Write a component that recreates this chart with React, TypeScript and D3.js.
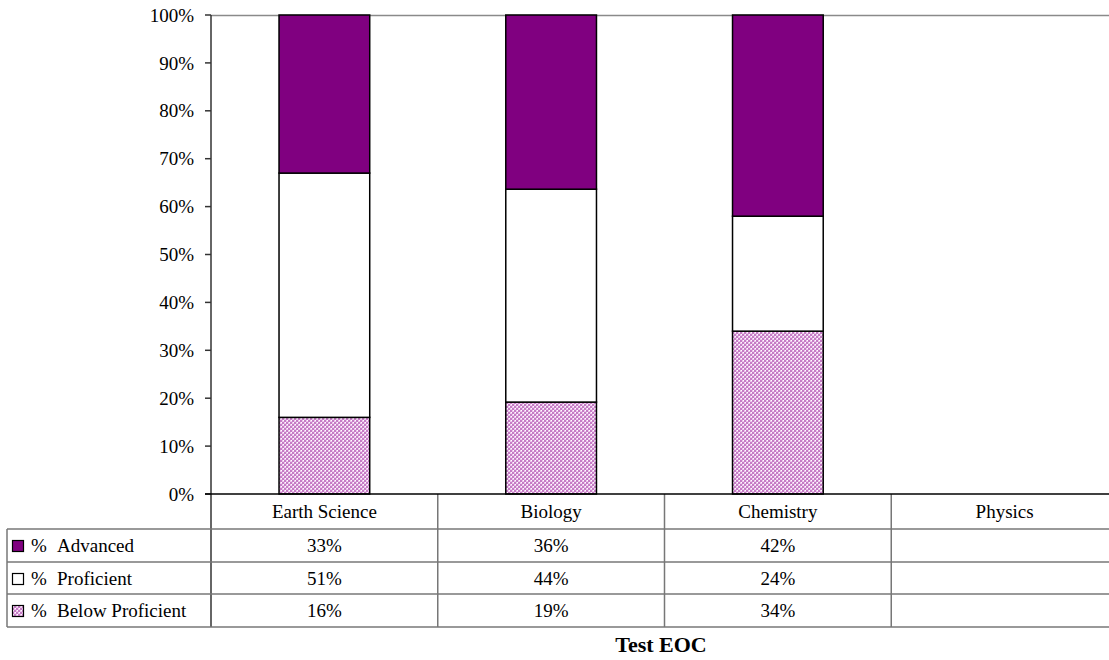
import React, { useEffect, useRef } from "react";
import * as d3 from "d3";

const categories = ["Earth Science", "Biology", "Chemistry", "Physics"];
const seriesNames = ["% Advanced", "% Proficient", "% Below Proficient"];
const advanced: (number | null)[] = [33, 36, 42, null];
const proficient: (number | null)[] = [51, 44, 24, null];
const belowProficient: (number | null)[] = [16, 19, 34, null];
const yTicks = [0, 0.1, 0.2, 0.3, 0.4, 0.5, 0.6, 0.7, 0.8, 0.9, 1];
const xTitle = "Test EOC";

const W = 1109;
const H = 660;
const FONT = "'Liberation Serif', 'Times New Roman', serif";

export default function App() {
  const ref = useRef<SVGSVGElement | null>(null);

  useEffect(() => {
    document.body.style.margin = "0";
    const svg = d3.select(ref.current);
    svg.selectAll("*").remove();

    const left = 211;
    const top = 15;
    const bottom = 494;
    const x = d3.scaleBand<string>().domain(categories).range([left, 1118]).padding(0);
    const y = d3.scaleLinear().domain([0, 1]).range([bottom, top]);

    // checker pattern
    const defs = svg.append("defs");
    const pat = defs
      .append("pattern")
      .attr("id", "chk")
      .attr("patternUnits", "userSpaceOnUse")
      .attr("width", 4)
      .attr("height", 4);
    pat.append("rect").attr("width", 4).attr("height", 4).attr("fill", "#ecc6ec");
    pat.append("rect").attr("x", 0).attr("y", 0).attr("width", 2).attr("height", 2).attr("fill", "#c57cc5");
    pat.append("rect").attr("x", 2).attr("y", 2).attr("width", 2).attr("height", 2).attr("fill", "#c57cc5");
    pat.append("rect").attr("x", 3).attr("y", 0).attr("width", 1).attr("height", 1).attr("fill", "#ffffff");
    pat.append("rect").attr("x", 1).attr("y", 2).attr("width", 1).attr("height", 1).attr("fill", "#ffffff");

    const fills = ["#800080", "#ffffff", "url(#chk)"];

    const rows = categories.map((c, i) => ({
      cat: c,
      below: belowProficient[i] ?? 0,
      prof: proficient[i] ?? 0,
      adv: advanced[i] ?? 0,
    }));
    const keys = ["below", "prof", "adv"];
    const stacked = d3.stack<any>().keys(keys).offset(d3.stackOffsetExpand)(rows);
    const fillByKey: Record<string, string> = { below: fills[2], prof: fills[1], adv: fills[0] };

    // plot top border
    svg
      .append("line")
      .attr("x1", left)
      .attr("x2", W)
      .attr("y1", top + 0.5)
      .attr("y2", top + 0.5)
      .attr("stroke", "#8a8a8a")
      .attr("stroke-width", 1.5);

    // bars
    const barW = x.bandwidth() * 0.4;
    stacked.forEach((s) => {
      svg
        .append("g")
        .selectAll("rect")
        .data(s.filter((d) => d[1] - d[0] > 0))
        .join("rect")
        .attr("x", (d: any) => (x(d.data.cat) as number) + (x.bandwidth() - barW) / 2)
        .attr("width", barW)
        .attr("y", (d: any) => y(d[1]))
        .attr("height", (d: any) => y(d[0]) - y(d[1]))
        .attr("fill", fillByKey[s.key])
        .attr("stroke", "#000")
        .attr("stroke-width", 1.5);
    });

    // y axis
    svg
      .append("line")
      .attr("x1", left)
      .attr("x2", left)
      .attr("y1", top)
      .attr("y2", 627)
      .attr("stroke", "#333")
      .attr("stroke-width", 1.5);
    const yg = svg.append("g");
    yTicks.forEach((t) => {
      yg.append("line")
        .attr("x1", left - 6)
        .attr("x2", left)
        .attr("y1", y(t))
        .attr("y2", y(t))
        .attr("stroke", "#333")
        .attr("stroke-width", 1.5);
      yg.append("text")
        .attr("x", 194)
        .attr("y", y(t))
        .attr("dy", "0.35em")
        .attr("text-anchor", "end")
        .attr("font-family", FONT)
        .attr("font-size", 19)
        .text(d3.format(".0%")(t));
    });

    // table
    const rowLines = [529, 562, 594, 627];
    rowLines.forEach((ry) =>
      svg
        .append("line")
        .attr("x1", 7)
        .attr("x2", W)
        .attr("y1", ry)
        .attr("y2", ry)
        .attr("stroke", "#777")
        .attr("stroke-width", 1.5)
    );
    svg
      .append("line")
      .attr("x1", 7)
      .attr("x2", 7)
      .attr("y1", 529)
      .attr("y2", 627)
      .attr("stroke", "#777")
      .attr("stroke-width", 1.5);
    categories.forEach((c, i) => {
      if (i > 0) {
        svg
          .append("line")
          .attr("x1", x(c) as number)
          .attr("x2", x(c) as number)
          .attr("y1", bottom)
          .attr("y2", 627)
          .attr("stroke", "#777")
          .attr("stroke-width", 1.5);
      }
      const cx = (x(c) as number) + x.bandwidth() / 2;
      svg
        .append("text")
        .attr("x", cx)
        .attr("y", 518)
        .attr("text-anchor", "middle")
        .attr("font-family", FONT)
        .attr("font-size", 19)
        .text(c);
      const vals = [advanced[i], proficient[i], belowProficient[i]];
      vals.forEach((v, r) => {
        if (v == null) return;
        svg
          .append("text")
          .attr("x", cx)
          .attr("y", rowLines[r] + 23)
          .attr("text-anchor", "middle")
          .attr("font-family", FONT)
          .attr("font-size", 19)
          .text(`${v}%`);
      });
    });

    // x axis line (0%)
    svg
      .append("line")
      .attr("x1", left - 6)
      .attr("x2", W)
      .attr("y1", bottom)
      .attr("y2", bottom)
      .attr("stroke", "#000")
      .attr("stroke-width", 1.5);

    // legend cells
    seriesNames.forEach((name, r) => {
      const ry = rowLines[r];
      svg
        .append("rect")
        .attr("x", 12.5)
        .attr("y", ry + 11.5)
        .attr("width", 11)
        .attr("height", 11)
        .attr("fill", fills[r])
        .attr("stroke", "#000")
        .attr("stroke-width", 1.2);
      const parts = name.split(" ");
      svg
        .append("text")
        .attr("x", 31)
        .attr("y", ry + 23)
        .attr("font-family", FONT)
        .attr("font-size", 19)
        .text(parts[0]);
      svg
        .append("text")
        .attr("x", 57)
        .attr("y", ry + 23)
        .attr("font-family", FONT)
        .attr("font-size", 19)
        .text(parts.slice(1).join(" "));
    });

    // x title
    svg
      .append("text")
      .attr("x", 661)
      .attr("y", 652)
      .attr("text-anchor", "middle")
      .attr("font-family", FONT)
      .attr("font-size", 22)
      .attr("font-weight", "bold")
      .text(xTitle);
  }, []);

  return (
    <div style={{ position: "absolute", left: 0, top: 0 }}>
      <svg ref={ref} width={W} height={H} style={{ display: "block", background: "#fff" }} />
    </div>
  );
}
